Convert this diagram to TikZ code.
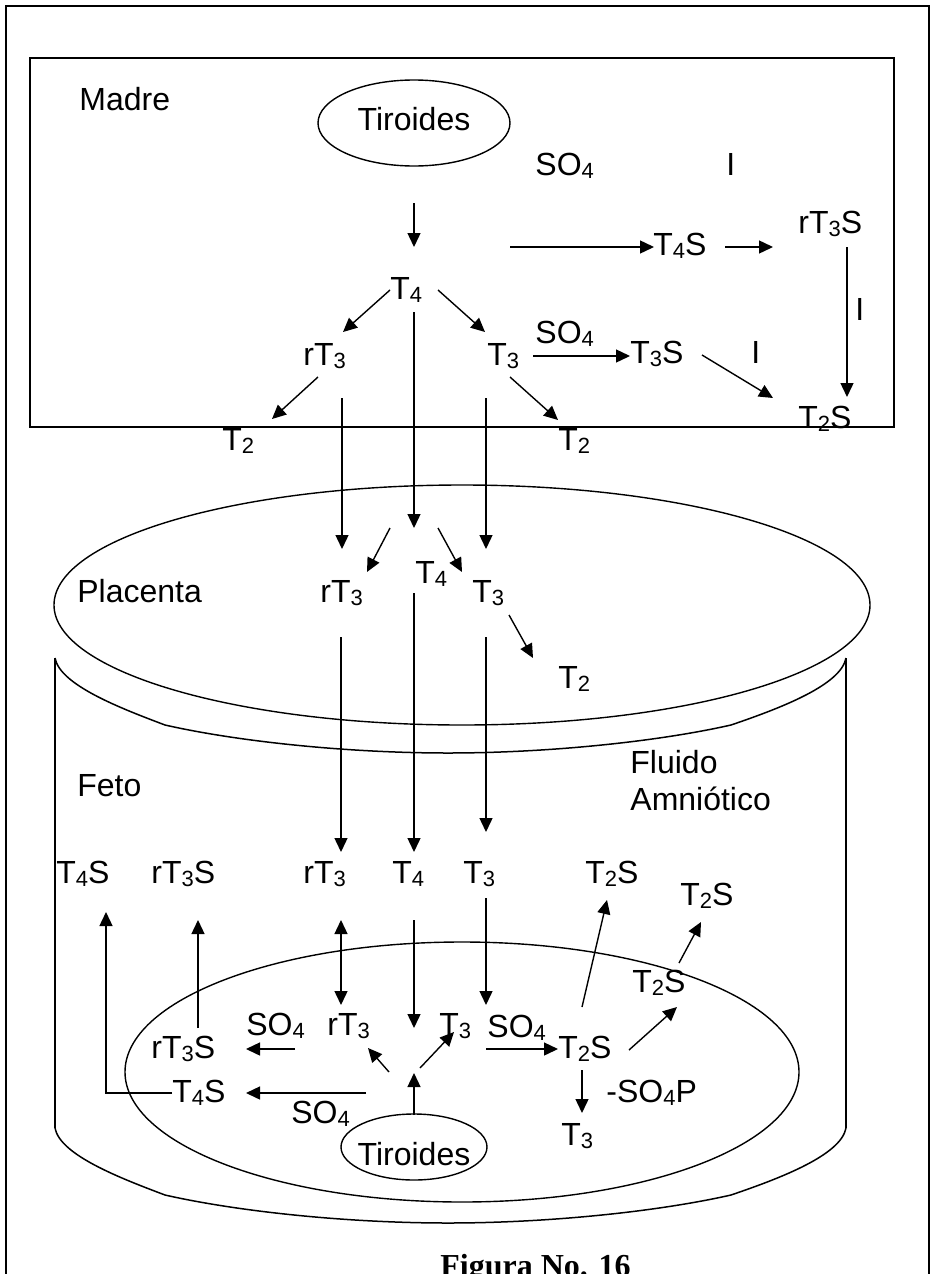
\documentclass[tikz,border=0pt]{standalone}
\usepackage{fontspec}
\setmainfont{Liberation Sans}
\newfontfamily\captionserif{Liberation Serif}
\usetikzlibrary{arrows.meta,shapes.geometric}
% lowered, smaller index figures (T4, SO4, ...)
\newcommand\sbs[1]{\raisebox{-0.1em}{\fontsize{11}{11}\selectfont #1}}

\begin{document}
\begin{tikzpicture}[x=0.5pt,y=-0.5pt,
  lbl/.style={inner sep=0pt, anchor=base west, font=\fontsize{16}{19}\selectfont},
  clbl/.style={lbl, anchor=base},
  oval/.style={draw, ellipse, inner sep=0pt, line width=0.7pt},
  arr/.style={line width=0.7pt, -{Triangle[length=7pt,width=6.5pt]}},
  darr/.style={line width=0.7pt, {Triangle[length=7pt,width=6.5pt]}-{Triangle[length=7pt,width=6.5pt]}},
  frame/.style={line width=1pt},
  wall/.style={line width=0.75pt},
]
\useasboundingbox (0,0) rectangle (931,1274);

% page frame and mother compartment
\draw[frame] (6,1300) -- (6,6) -- (929,6) -- (929,1300);
\draw[line width=0.8pt] (30,58) rectangle (894,427);

% ---------------- Madre ----------------
\node[lbl] (madre) at (79,110) {Madre};
\node[oval, minimum width=96pt, minimum height=43pt] (tiroM) at (414,123) {};
\node[clbl] (tiroMt) at (414,130) {Tiroides};
\node[lbl] (so4a) at (535,175) {SO\sbs{4}};
\node[lbl] (ia) at (726,175) {I};
\node[lbl] (t4sM) at (653,255) {T\sbs{4}S};
\node[lbl] (rt3sM) at (798,233) {rT\sbs{3}S};
\node[lbl] (ib) at (855,320) {I};
\node[lbl] (t2sM) at (798,428) {T\sbs{2}S};
\node[lbl] (so4b) at (535,343) {SO\sbs{4}};
\node[lbl] (t3sM) at (630,363) {T\sbs{3}S};
\node[lbl] (ic) at (751,363) {I};
\node[lbl] (t4M) at (390,299) {T\sbs{4}};
\node[lbl] (rt3M) at (303,365) {rT\sbs{3}};
\node[lbl] (t3M) at (487,365) {T\sbs{3}};
\node[lbl] (t2Ma) at (222,450) {T\sbs{2}};
\node[lbl] (t2Mb) at (558,450) {T\sbs{2}};

\coordinate (m1a) at (414,203);  \coordinate (m1b) at (414,247);
\coordinate (m2a) at (510,247);  \coordinate (m2b) at (654,247);
\coordinate (m3a) at (725,247);  \coordinate (m3b) at (773,247);
\coordinate (m4a) at (847,247);  \coordinate (m4b) at (847,397);
\coordinate (m5a) at (390,290);  \coordinate (m5b) at (343,332);
\coordinate (m6a) at (438,290);  \coordinate (m6b) at (485,332);
\coordinate (m7a) at (533,356);  \coordinate (m7b) at (630,356);
\coordinate (m8a) at (702,355);  \coordinate (m8b) at (773,398);
\coordinate (m9a) at (318,377);  \coordinate (m9b) at (272,419);
\coordinate (m10a) at (510,377); \coordinate (m10b) at (558,420);
\coordinate (m11a) at (342,398); \coordinate (m11b) at (342,549);
\coordinate (m12a) at (414,312); \coordinate (m12b) at (414,528);
\coordinate (m13a) at (486,398); \coordinate (m13b) at (486,549);
\foreach \k in {1,...,13} \draw[arr] (m\k a) -- (m\k b);

% ---------------- Placenta ----------------
\node[oval, minimum width=408pt, minimum height=120pt] (plac) at (462,605) {};
\node[lbl] (placT) at (77,602) {Placenta};
\node[lbl] (rt3P) at (320,602) {rT\sbs{3}};
\node[lbl] (t4P) at (415,583) {T\sbs{4}};
\node[lbl] (t3P) at (472,602) {T\sbs{3}};
\node[lbl] (t2P) at (558,688) {T\sbs{2}};

\coordinate (p1a) at (390,528); \coordinate (p1b) at (367,572);
\coordinate (p2a) at (438,528); \coordinate (p2b) at (462,572);
\coordinate (p3a) at (509,615); \coordinate (p3b) at (533,658);
\coordinate (p4a) at (341,637); \coordinate (p4b) at (341,852);
\coordinate (p5a) at (414,593); \coordinate (p5b) at (414,852);
\coordinate (p6a) at (486,637); \coordinate (p6b) at (486,832);
\foreach \k in {1,...,6} \draw[arr] (p\k a) -- (p\k b);

% ---------------- Feto: container ----------------
\draw[wall] (55,658) -- (55,1128);
\draw[wall] (846,658) -- (846,1128);
\draw[wall] (55,658) .. controls (60,685) and (120,708) .. (165,725)
  .. controls (240,742) and (350,753) .. (448,753)
  .. controls (546,753) and (656,742) .. (731,725)
  .. controls (781,708) and (841,685) .. (846,658);
\draw[wall] (55,1128) .. controls (60,1155) and (120,1178) .. (165,1195)
  .. controls (240,1212) and (350,1223) .. (448,1223)
  .. controls (546,1223) and (656,1212) .. (731,1195)
  .. controls (781,1178) and (841,1155) .. (846,1128);

\node[oval, minimum width=337pt, minimum height=130pt] (fetal) at (462,1072) {};
\node[oval, minimum width=73pt, minimum height=33pt] (tiroF) at (414,1147) {};
\node[clbl] (tiroFt) at (414,1165) {Tiroides};

\node[lbl] (feto) at (77,796) {Feto};
\node[lbl] (fluido) at (630,773) {Fluido};
\node[lbl] (amnio) at (630,810) {Amniótico};

% amniotic fluid row
\node[lbl] (t4sA) at (56,883) {T\sbs{4}S};
\node[lbl] (rt3sA) at (151,883) {rT\sbs{3}S};
\node[lbl] (rt3A) at (303,883) {rT\sbs{3}};
\node[lbl] (t4A) at (392,883) {T\sbs{4}};
\node[lbl] (t3A) at (463,883) {T\sbs{3}};
\node[lbl] (t2sA) at (585,883) {T\sbs{2}S};
\node[lbl] (t2sB) at (680,905) {T\sbs{2}S};

% fetal metabolism
\node[lbl] (t2sF1) at (632,992) {T\sbs{2}S};
\node[lbl] (so4F1) at (487,1037) {SO\sbs{4}};
\node[lbl] (t3F) at (439,1035) {T\sbs{3}};
\node[lbl] (rt3F) at (327,1035) {rT\sbs{3}};
\node[lbl] (so4F2) at (246,1035) {SO\sbs{4}};
\node[lbl] (rt3sF) at (151,1058) {rT\sbs{3}S};
\node[lbl] (t2sF2) at (558,1058) {T\sbs{2}S};
\node[lbl] (t4sF) at (172,1102) {T\sbs{4}S};
\node[lbl] (so4pF) at (606,1102) {-SO\sbs{4}P};
\node[lbl] (so4F3) at (291,1123) {SO\sbs{4}};
\node[lbl] (t3Fb) at (561,1145) {T\sbs{3}};

\coordinate (f1a) at (198,1028); \coordinate (f1b) at (198,920);
\coordinate (f2a) at (414,920);  \coordinate (f2b) at (414,1028);
\coordinate (f3a) at (486,898);  \coordinate (f3b) at (486,1005);
\coordinate (f4a) at (582,1007); \coordinate (f4b) at (607,900);
\coordinate (f5a) at (679,963);  \coordinate (f5b) at (701,922);
\coordinate (f6a) at (629,1050); \coordinate (f6b) at (677,1007);
\coordinate (f7a) at (486,1049); \coordinate (f7b) at (558,1049);
\coordinate (f8a) at (295,1049); \coordinate (f8b) at (246,1049);
\coordinate (f9a) at (366,1093); \coordinate (f9b) at (246,1093);
\coordinate (f10a) at (414,1115); \coordinate (f10b) at (414,1073);
\coordinate (f11a) at (389,1072); \coordinate (f11b) at (368,1048);
\coordinate (f12a) at (420,1068); \coordinate (f12b) at (454,1032);
\coordinate (f13a) at (582,1070); \coordinate (f13b) at (582,1113);
\foreach \k in {1,...,13} \draw[arr] (f\k a) -- (f\k b);

\coordinate (f14a) at (172,1093); \coordinate (f14b) at (106,912);
\draw[arr] (f14a) -| (f14b);
\coordinate (f15a) at (341,920); \coordinate (f15b) at (341,1005);
\draw[darr] (f15a) -- (f15b);

% caption
\node[inner sep=0pt, anchor=base west, font=\captionserif\bfseries\fontsize{16}{19}\selectfont] (cap) at (440,1276) {Figura No. 16};
\end{tikzpicture}
\end{document}
